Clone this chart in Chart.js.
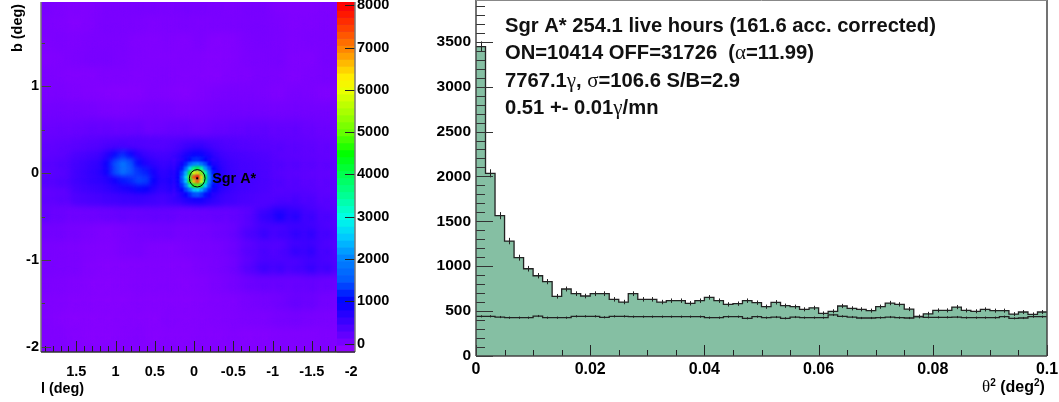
<!DOCTYPE html>
<html>
<head>
<meta charset="utf-8">
<title>Sgr A* sky map and theta2</title>
<script src="https://cdn.jsdelivr.net/npm/chart.js@4"></script>
<style>
    html, body { margin: 0; padding: 0; background: #fff; }
    canvas { position: absolute; top: 0; }
    #skyMap { left: 0; }
    #theta2 { left: 400px; }
</style>
</head>
<body>
<canvas id="skyMap" width="400" height="402"></canvas>
<canvas id="theta2" width="659" height="402"></canvas>
<script>
// theta2 histogram, 60 bins from 0 to 0.1 deg2
const binWidth = 0.1 / 60;
const onCounts = [3445, 2035, 1563, 1280, 1095, 972, 894, 828, 665, 746, 694, 668, 694, 694, 631, 601, 694, 631, 631, 601,
    616, 616, 587, 616, 653, 616, 575, 583, 616, 594, 549, 598, 560, 549, 520, 536, 475, 498, 557, 531,
    520, 505, 549, 590, 575, 523, 440, 470, 508, 508, 545, 508, 498, 519, 505, 505, 467, 490, 464, 490];
const offCounts = [442, 442, 434, 427, 427, 427, 445, 427, 427, 427, 442, 442, 442, 431, 442, 442, 438, 438, 438, 438,
    438, 438, 438, 438, 427, 427, 438, 438, 420, 438, 427, 434, 420, 434, 427, 427, 427, 457, 442, 434,
    423, 423, 427, 434, 427, 423, 438, 431, 431, 431, 434, 427, 427, 427, 427, 438, 420, 423, 438, 438];
const thetaTicks = [0, 0.02, 0.04, 0.06, 0.08, 0.1];
const countTicks = [0, 500, 1000, 1500, 2000, 2500, 3000, 3500];
const statLines = [
    [['Sgr A* 254.1 live hours (161.6 acc. corrected)', true]],
    [['ON=10414 OFF=31726  (', true], ['\u03b1', false], ['=11.99)', true]],
    [['7767.1', true], ['\u03b3', false], [', ', true], ['\u03c3', false], ['=106.6 S/B=2.9', true]],
    [['0.51 +- 0.01', true], ['\u03b3', false], ['/mn', true]]
];

// sky map, wide grid: 0.2 deg cells
const lTicks = [1.5, 1, 0.5, 0, -0.5, -1, -1.5, -2];
const bTicks = [1, 0, -1, -2];
const zTicks = [0, 1000, 2000, 3000, 4000, 5000, 6000, 7000, 8000];
const skyL = [1.9, 1.7, 1.5, 1.3, 1.1, 0.9, 0.7, 0.5, 0.3, 0.1, -0.1, -0.3, -0.5, -0.7, -0.9, -1.1, -1.3, -1.5, -1.7, -1.9];
const skyB = [1.9, 1.7, 1.5, 1.3, 1.1, 0.9, 0.7, 0.5, 0.3, 0.1, -0.1, -0.3, -0.5, -0.7, -0.9, -1.1, -1.3, -1.5, -1.7, -1.9, -2.1];
const skyRows = [
    [30, -10, -40, -30, 10, 20, 30, 30, 20, 40, 30, 20, 0, 30, 30, -20, -30, -30, -10, 0],
    [0, -20, -50, -20, 20, 20, 10, -10, 0, 20, 0, 10, 20, 30, 30, 10, -20, -10, 0, 0],
    [-10, 0, -10, 10, 10, 10, -30, -40, -20, -40, 0, -50, -40, 20, 30, 20, -10, 10, 20, 20],
    [-30, -20, 0, 30, 30, 10, -20, -30, -30, -20, -30, -50, -40, 10, 20, 30, -20, -20, 30, 30],
    [10, -10, -40, -40, -20, -10, -30, -20, -10, -30, -40, -50, -20, -10, 20, 10, -20, 10, 30, 30],
    [20, 10, -10, -30, -50, -60, -50, -10, -30, -50, -20, 10, 30, 30, 20, -10, 30, 20, -20, 0],
    [80, 80, 70, 60, 20, 10, 30, 60, 50, 20, 40, 70, 90, 90, 80, 70, 80, 80, 80, 80],
    [150, 150, 160, 190, 190, 170, 170, 110, 150, 170, 130, 180, 200, 220, 230, 200, 210, 170, 140, 130],
    [230, 250, 280, 320, 360, 400, 420, 400, 370, 400, 420, 410, 380, 340, 320, 290, 270, 240, 210, 200],
    [300, 340, 400, 450, 500, 600, 600, 600, 500, 500, 600, 600, 450, 400, 370, 340, 310, 280, 250, 240],
    [320, 360, 420, 470, 500, 600, 650, 650, 550, 550, 600, 550, 450, 400, 370, 350, 320, 280, 260, 250],
    [240, 270, 300, 350, 400, 440, 480, 480, 450, 440, 500, 500, 430, 380, 350, 380, 420, 380, 300, 280],
    [220, 160, 120, 130, 150, 190, 180, 200, 190, 160, 170, 190, 210, 300, 560, 800, 680, 520, 400, 340],
    [100, 80, 50, 20, -20, 20, 60, 80, 90, 60, 70, 110, 170, 380, 540, 480, 600, 600, 460, 380],
    [30, 20, 0, -20, -40, 0, 30, -10, -20, 10, 40, 50, 120, 290, 400, 380, 560, 600, 440, 360],
    [30, 20, 10, -40, -60, -50, -40, -30, -40, -40, 0, 30, 100, 300, 500, 480, 440, 560, 500, 400],
    [20, -10, -30, -60, -70, -60, -40, -40, -40, -50, -40, 0, 50, 130, 170, 170, 170, 190, 160, 150],
    [-20, -30, -50, -60, -70, -70, -50, -60, -50, -60, -50, -30, -20, 30, 60, 100, 170, 150, 80, 70],
    [-10, -50, -70, -70, -70, -60, -60, -70, -40, -50, -50, -40, -20, 0, 0, 40, 60, 30, 20, 20],
    [-20, -30, -60, -80, -80, -60, -40, -70, -60, -60, -50, -60, -40, -60, -50, -30, -30, -30, -20, -20],
    [-30, -40, -50, -60, -60, -60, -50, -60, -50, -50, -50, -50, -40, -50, -40, -30, -30, -30, -20, -20]
];

// ridge around the plane: 0.1 deg cells
const ridgeL = [1.5, 1.4, 1.3, 1.2, 1.1, 1.0, 0.9, 0.8, 0.7, 0.6, 0.5, 0.4, 0.3, 0.2, 0.1, 0, -0.1, -0.2, -0.3, -0.4, -0.5, -0.6, -0.7, -0.8, -0.9];
const ridgeB = [0.3, 0.2, 0.1, 0, -0.1, -0.2, -0.3];
const ridgeRows = [
    [260, 280, 300, 330, 380, 400, 400, 360, 330, 310, 300, 300, 330, 400, 480, 560, 560, 480, 400, 350, 330, 310, 290, 280, 270],
    [380, 400, 450, 500, 700, 1050, 1300, 1050, 680, 520, 440, 420, 450, 560, 800, 1000, 1000, 780, 560, 460, 420, 400, 380, 360, 350],
    [450, 500, 560, 620, 950, 1500, 2100, 1700, 1050, 750, 600, 520, 560, 750, 1150, 1500, 1450, 1050, 700, 560, 480, 440, 420, 400, 380],
    [480, 540, 620, 680, 950, 1500, 2100, 1800, 1350, 1200, 850, 620, 700, 1050, 1700, 2300, 2300, 1600, 900, 620, 520, 460, 440, 420, 400],
    [480, 540, 600, 650, 720, 900, 1150, 1250, 1500, 1450, 950, 680, 780, 1200, 1900, 2600, 2600, 1750, 950, 660, 550, 480, 450, 430, 400],
    [440, 480, 520, 560, 620, 700, 780, 850, 1050, 1000, 760, 600, 700, 950, 1350, 1700, 1700, 1250, 820, 640, 540, 470, 450, 420, 400],
    [370, 400, 420, 440, 470, 490, 520, 540, 540, 520, 480, 440, 500, 600, 750, 900, 900, 750, 600, 520, 470, 430, 400, 380, 360]
];

// central source: 0.05 deg cells
const coreL = [0.25, 0.2, 0.15, 0.1, 0.05, 0, -0.05, -0.1, -0.15, -0.2, -0.25];
const coreB = [0.15, 0.1, 0.05, 0, -0.05, -0.1, -0.15, -0.2, -0.25];
const coreRows = [
    [500, 600, 700, 850, 1050, 1200, 1220, 1120, 950, 780, 650],
    [550, 700, 880, 1200, 1650, 2000, 2100, 1850, 1450, 1050, 760],
    [600, 800, 1100, 1700, 2650, 3750, 4100, 3400, 2200, 1450, 950],
    [680, 880, 1370, 2350, 4200, 5900, 6450, 5200, 3400, 1900, 1120],
    [700, 920, 1500, 2700, 5000, 7250, 7950, 6450, 4100, 2100, 1230],
    [690, 900, 1450, 2500, 4700, 6600, 7250, 5900, 3750, 2000, 1190],
    [630, 830, 1230, 2000, 3300, 4700, 5000, 4200, 2650, 1600, 1050],
    [570, 750, 950, 1380, 2000, 2500, 2700, 2350, 1700, 1200, 850],
    [520, 630, 780, 950, 1220, 1450, 1500, 1350, 1100, 880, 700]
];

const sourceName = 'Sgr A*';
const sourcePos = { l: -0.04, b: -0.06 };
const sourceRadius = 0.1;

// colour bar
const zStops = [-200, 0, 1000, 1500, 2000, 2500, 3000, 3500, 4000, 4500, 5000, 5500, 6000, 6300, 7000, 7500, 8000];
const zColors = [[155, 0, 255], [125, 0, 255], [0, 0, 255], [0, 90, 255], [0, 130, 255], [0, 200, 255], [0, 255, 230], [0, 255, 150],
    [0, 255, 80], [0, 255, 0], [100, 255, 0], [170, 255, 0], [235, 255, 0], [255, 240, 0], [255, 130, 0], [255, 60, 0], [255, 0, 0]];
const zBand = 165;

const sans = '"Liberation Sans", Arial, sans-serif';
const serif = '"Liberation Serif", "Times New Roman", serif';
const tickColor = '#222';
const frameColor = '#777';
const histFill = '#85bfa3';

function zColor(v) {
    let i = 0;
    while (i < zStops.length - 2 && v > zStops[i + 1]) i++;
    const t = Math.max(0, Math.min(1, (v - zStops[i]) / (zStops[i + 1] - zStops[i])));
    const c = zColors[i].map((a, k) => Math.round(a + (zColors[i + 1][k] - a) * t));
    return `rgb(${c[0]},${c[1]},${c[2]})`;
}

function cellsOf(ls, bs, rows) {
    const out = [];
    rows.forEach((row, r) => row.forEach((v, c) => out.push({ x: ls[c], y: bs[r], v })));
    return out;
}

function cellDataset(ls, bs, rows, step, blurPx, order) {
    return {
        data: cellsOf(ls, bs, rows),
        order,
        blurPx,
        pointStyle: 'rect',
        pointBorderWidth: 0,
        pointHoverRadius: 0,
        // rect points have half width radius / sqrt2
        pointRadius: ctx => {
            const y = ctx.chart.scales.y;
            return Math.abs(y.getPixelForValue(0) - y.getPixelForValue(step)) * 0.55 * Math.SQRT2;
        },
        pointBackgroundColor: ctx => zColor(ctx.raw.v)
    };
}

function hLine(ctx, x0, x1, y) {
    ctx.beginPath();
    ctx.moveTo(x0, y);
    ctx.lineTo(x1, y);
    ctx.stroke();
}

function vLine(ctx, x, y0, y1) {
    ctx.beginPath();
    ctx.moveTo(x, y0);
    ctx.lineTo(x, y1);
    ctx.stroke();
}

// explicit tick list, and no extra room kept for end labels
function fixedTicks(list) {
    return s => { s.ticks = list.map(v => ({ value: v })); };
}

function noPadding(s) {
    s.paddingTop = 0;
    s.paddingBottom = 0;
    s.paddingLeft = 0;
    s.paddingRight = 0;
}

const blurPlugin = {
    id: 'cellBlur',
    beforeDraw(chart) {
        const a = chart.chartArea;
        chart.ctx.fillStyle = zColor(20);
        chart.ctx.fillRect(a.left, a.top, a.width, a.height);
    },
    beforeDatasetDraw(chart, args) {
        chart.ctx.filter = `blur(${chart.data.datasets[args.index].blurPx}px)`;
    },
    afterDatasetDraw(chart) {
        chart.ctx.filter = 'none';
    }
};

const skyDecor = {
    id: 'skyDecor',
    afterDatasetsDraw(chart) {
        const { ctx, chartArea: a } = chart;
        const { x, y, z } = chart.scales;
        ctx.save();

        // ticks along l and b, pointing in
        ctx.strokeStyle = tickColor;
        ctx.lineWidth = 1;
        for (let i = -20; i <= 19; i++) {
            const l = i / 10;
            const len = i % 5 === 0 ? 11 : 6;
            vLine(ctx, Math.round(x.getPixelForValue(l)) + 0.5, a.bottom, a.bottom - len);
        }
        ctx.strokeStyle = '#444';
        for (let i = -4; i <= 3; i++) {
            const b = i / 2;
            const len = i % 2 === 0 ? 10 : 4;
            hLine(ctx, a.left, a.left + len, Math.round(y.getPixelForValue(b)) + 0.5);
        }

        // colour bar in front of the map
        const barLeft = a.right - 18;
        for (let v = z.min; v < z.max; v += zBand) {
            const top = z.getPixelForValue(Math.min(v + zBand, z.max));
            const bottom = z.getPixelForValue(v);
            ctx.fillStyle = zColor(v + zBand / 2);
            ctx.fillRect(barLeft, top, a.right - barLeft, bottom - top + 0.5);
        }
        ctx.strokeStyle = tickColor;
        zTicks.forEach(v => hLine(ctx, a.right - 10, a.right, Math.round(z.getPixelForValue(v)) + 0.5));

        // frame
        ctx.strokeStyle = frameColor;
        ctx.lineWidth = 1.5;
        vLine(ctx, a.left, a.top, a.bottom);
        vLine(ctx, a.right, a.top, a.bottom);
        ctx.strokeStyle = '#333';
        hLine(ctx, a.left, a.right, a.bottom);

        // source marker and name
        const px = x.getPixelForValue(sourcePos.l);
        const py = y.getPixelForValue(sourcePos.b);
        const rx = Math.abs(x.getPixelForValue(sourcePos.l + sourceRadius) - px);
        const ry = Math.abs(y.getPixelForValue(sourcePos.b + sourceRadius) - py);
        ctx.strokeStyle = '#000';
        ctx.lineWidth = 1;
        ctx.beginPath();
        ctx.ellipse(px, py, rx, ry, 0, 0, Math.PI * 2);
        ctx.stroke();
        ctx.fillStyle = '#000';
        ctx.fillRect(px - 1, py - 1, 2, 2);
        ctx.font = `bold 14.4px ${sans}`;
        ctx.textBaseline = 'alphabetic';
        ctx.fillText(sourceName, px + 15, py + 5);

        // axis titles
        ctx.fillText('l (deg)', 41, 393);
        ctx.translate(22, 4);
        ctx.rotate(-Math.PI / 2);
        ctx.textAlign = 'right';
        ctx.fillText('b (deg)', 0, 0);
        ctx.restore();
    }
};

const histDecor = {
    id: 'histDecor',
    afterDatasetsDraw(chart) {
        const { ctx, chartArea: a } = chart;
        const { x, y } = chart.scales;
        ctx.save();

        // error bars at bin centres
        ctx.strokeStyle = tickColor;
        ctx.lineWidth = 1;
        onCounts.forEach((v, i) => {
            const cx = Math.round(x.getPixelForValue((i + 0.5) * binWidth)) + 0.5;
            const err = Math.sqrt(v);
            vLine(ctx, cx, y.getPixelForValue(v + err), y.getPixelForValue(v - err));
            vLine(ctx, cx, y.getPixelForValue(offCounts[i] + 12), y.getPixelForValue(offCounts[i] - 12));
        });

        // ticks pointing in
        ctx.strokeStyle = tickColor;
        for (let i = 0; i <= 20; i++) {
            const len = i % 4 === 0 ? 11 : 6;
            vLine(ctx, Math.round(x.getPixelForValue(i * 0.005)) + 0.5, a.bottom, a.bottom - len);
        }
        ctx.strokeStyle = '#333';
        for (let i = 0; i <= 39; i++) {
            const len = i % 5 === 0 ? 17 : 9;
            hLine(ctx, a.left, a.left + len, Math.round(y.getPixelForValue(i * 100)) + 0.5);
        }

        // frame
        ctx.strokeStyle = '#444';
        ctx.lineWidth = 1.5;
        vLine(ctx, a.left, a.top, a.bottom);
        vLine(ctx, a.right, a.top, a.bottom);
        hLine(ctx, a.left, a.right, a.bottom);
        ctx.strokeStyle = '#888';
        ctx.lineWidth = 1;
        hLine(ctx, a.left, a.right, a.top + 0.5);

        // numbers written in the plot
        ctx.fillStyle = '#111';
        ctx.textBaseline = 'alphabetic';
        const baselines = [32, 59, 87, 114];
        statLines.forEach((parts, n) => {
            let tx = 105;
            parts.forEach(([text, bold]) => {
                ctx.font = bold ? `bold 20.2px ${sans}` : `21px ${serif}`;
                ctx.fillText(text, tx, baselines[n]);
                tx += ctx.measureText(text).width;
            });
        });

        // theta2 axis title with raised exponents
        const titleParts = [['\u03b8', `17px ${serif}`, 0], ['2', `bold 10px ${sans}`, -6], [' (deg', `bold 16px ${sans}`, 0], ['2', `bold 10px ${sans}`, -6], [')', `bold 16px ${sans}`, 0]];
        let tx = 582;
        titleParts.forEach(([text, font, dy]) => {
            ctx.font = font;
            ctx.fillStyle = '#000';
            ctx.fillText(text, tx, 392 + dy);
            tx += ctx.measureText(text).width;
        });
        ctx.restore();
    }
};

function tickFont(size) {
    return { family: sans, weight: 'bold', size };
}

new Chart(document.getElementById('skyMap'), {
    type: 'scatter',
    data: {
        datasets: [
            cellDataset(skyL, skyB, skyRows, 0.2, 4, 3),
            cellDataset(ridgeL, ridgeB, ridgeRows, 0.1, 3, 2),
            cellDataset(coreL, coreB, coreRows, 0.05, 1.2, 1)
        ]
    },
    options: {
        responsive: false,
        animation: false,
        events: [],
        layout: { padding: { top: 2, bottom: 0, left: 0, right: 0 } },
        plugins: { legend: { display: false }, tooltip: { enabled: false } },
        scales: {
            x: {
                type: 'linear',
                reverse: true,
                min: -2.05,
                max: 1.95,
                afterBuildTicks: fixedTicks(lTicks),
                afterFit: s => { noPadding(s); s.height = 50; },
                grid: { display: false, drawTicks: false },
                border: { display: false },
                ticks: { maxRotation: 0, autoSkip: false, padding: 11, color: '#000', font: tickFont(14.5), callback: v => String(v) }
            },
            y: {
                min: -2.06,
                max: 1.97,
                afterBuildTicks: fixedTicks(bTicks),
                afterFit: s => { noPadding(s); s.width = 41; },
                grid: { display: false, drawTicks: false },
                border: { display: false },
                ticks: { padding: 2, color: '#000', font: tickFont(14.5), callback: v => String(v) }
            },
            z: {
                position: 'right',
                min: -200,
                max: 8080,
                afterBuildTicks: fixedTicks(zTicks),
                afterFit: s => { noPadding(s); s.width = 45; },
                grid: { display: false, drawTicks: false, drawOnChartArea: false },
                border: { display: false },
                ticks: { padding: 2, color: '#000', font: tickFont(14.5), callback: v => String(v) }
            }
        }
    },
    plugins: [blurPlugin, skyDecor]
});

const stepPoints = counts => counts.map((v, i) => ({ x: i * binWidth, y: v })).concat([{ x: 0.1, y: counts[counts.length - 1] }]);

new Chart(document.getElementById('theta2'), {
    type: 'line',
    data: {
        datasets: [
            {
                label: 'ON',
                data: stepPoints(onCounts),
                order: 2,
                stepped: true,
                fill: 'origin',
                backgroundColor: histFill,
                borderColor: tickColor,
                borderWidth: 1.3,
                pointRadius: 0
            },
            {
                label: 'OFF',
                data: stepPoints(offCounts),
                order: 1,
                stepped: true,
                fill: false,
                borderColor: tickColor,
                borderWidth: 1.3,
                pointRadius: 0
            }
        ]
    },
    options: {
        responsive: false,
        animation: false,
        events: [],
        layout: { padding: { top: 0, bottom: 0, left: 0, right: 12 } },
        plugins: { legend: { display: false }, tooltip: { enabled: false } },
        scales: {
            x: {
                type: 'linear',
                min: 0,
                max: 0.1,
                afterBuildTicks: fixedTicks(thetaTicks),
                afterFit: s => { noPadding(s); s.height = 46; },
                grid: { display: false, drawTicks: false },
                border: { display: false },
                ticks: { maxRotation: 0, autoSkip: false, padding: 4, color: '#000', font: tickFont(16), callback: v => String(v) }
            },
            y: {
                min: 0,
                max: 3965,
                afterBuildTicks: fixedTicks(countTicks),
                afterFit: s => { noPadding(s); s.width = 76; },
                grid: { display: false, drawTicks: false },
                border: { display: false },
                ticks: { padding: 5, color: '#000', font: tickFont(15.5), callback: v => String(v) }
            }
        }
    },
    plugins: [histDecor]
});
</script>
</body>
</html>
